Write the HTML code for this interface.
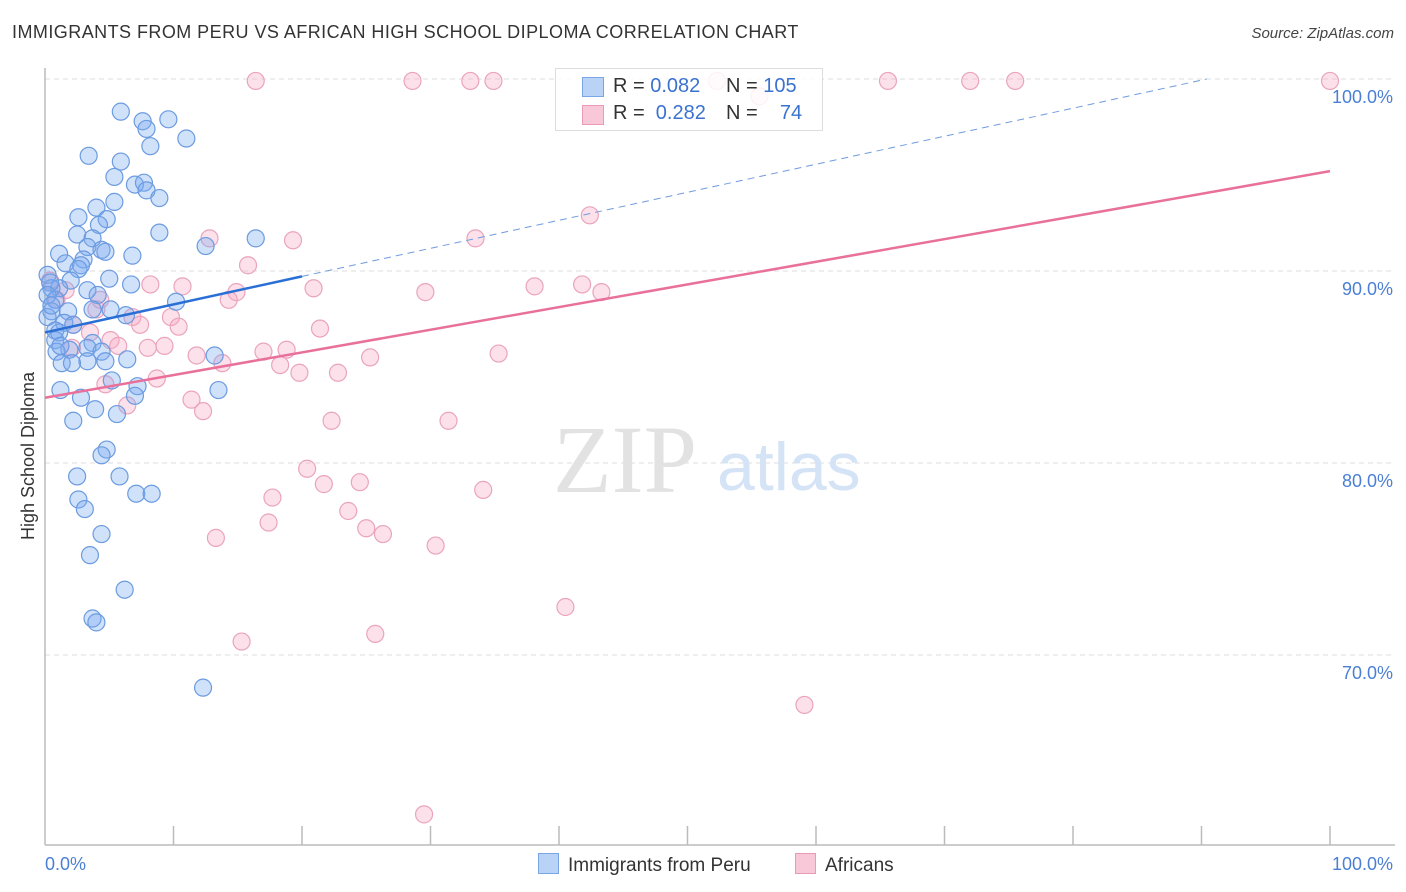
<!DOCTYPE html>
<html><head><meta charset="utf-8"><style>
body{margin:0;background:#fff;font-family:"Liberation Sans",sans-serif;}
#wrap{position:relative;width:1406px;height:892px;overflow:hidden;}
.t{position:absolute;white-space:nowrap;}
</style></head><body>
<div id="wrap">
<div class="t" style="left:12px;top:22px;font-size:18px;letter-spacing:0.45px;color:#333;">IMMIGRANTS FROM PERU VS AFRICAN HIGH SCHOOL DIPLOMA CORRELATION CHART</div>
<div class="t" style="right:12px;top:25px;font-size:15px;color:#444;font-style:italic;">Source: ZipAtlas.com</div>
<svg id="svg" width="1406" height="892" style="position:absolute;left:0;top:0;"></svg>
</div>
<script>
const xTickLabels=["0.0%","100.0%"];
const yTicks=[70,80,90,100];
const blueX=[5.9,7.6,7.9,9.6,8.2,11.0,3.4,5.9,5.4,7.0,7.7,7.9,8.9,5.4,4.0,2.6,4.8,4.2,2.5,8.9,3.7,16.4,12.5,3.3,4.4,4.7,1.1,6.8,3.0,1.6,2.8,2.6,5.0,0.2,2.0,6.7,1.1,0.5,3.3,4.1,0.8,10.2,3.7,5.1,6.3,0.5,1.8,0.2,1.5,2.2,0.8,1.1,0.8,3.7,3.3,1.9,0.9,4.4,13.2,6.4,3.3,1.3,2.1,4.7,5.2,7.2,7.0,1.2,2.8,3.9,5.6,2.2,4.8,4.4,5.8,2.5,2.6,7.1,8.3,3.1,4.4,3.5,6.2,3.7,4.0,12.3,13.5,1.2,0.4,0.2,0.5];
const blueY=[98.3,97.8,97.4,97.9,96.5,96.9,96.0,95.7,94.9,94.5,94.6,94.2,93.8,93.6,93.3,92.8,92.7,92.4,91.9,92.0,91.7,91.7,91.3,91.25,91.1,91.0,90.9,90.8,90.6,90.4,90.3,90.1,89.6,89.8,89.5,89.3,89.1,89.1,89.0,88.75,88.5,88.4,88.0,88.0,87.7,87.9,87.9,87.6,87.3,87.2,86.9,86.8,86.4,86.25,86.0,85.9,85.8,85.8,85.6,85.4,85.3,85.2,85.2,85.3,84.3,84.0,83.5,83.8,83.4,82.8,82.55,82.2,80.7,80.4,79.3,79.3,78.1,78.4,78.4,77.6,76.3,75.2,73.4,71.9,71.7,68.3,83.8,86.1,89.4,88.75,88.2];
const pinkX=[16.4,28.6,33.1,34.9,52.3,65.6,72.0,75.5,100,55.6,42.4,12.8,33.5,19.3,15.8,8.2,10.7,38.1,41.8,43.3,29.6,20.9,14.9,14.3,0.4,0.9,4.0,6.8,7.4,9.8,10.4,21.4,3.5,5.1,5.7,8.0,9.3,11.8,13.8,17.0,18.8,18.3,19.8,22.8,25.3,35.3,8.7,4.7,11.4,6.4,12.3,22.3,31.4,20.4,21.7,24.5,34.1,17.7,23.6,25.0,26.3,17.4,13.3,30.4,40.5,25.7,15.3,59.1,29.5,1.6,2.2,4.3,2.1];
const pinkY=[99.9,99.9,99.9,99.9,99.9,99.9,99.9,99.9,99.9,99.1,92.9,91.7,91.7,91.6,90.3,89.3,89.2,89.2,89.3,88.9,88.9,89.1,88.9,88.5,89.5,88.5,88.0,87.6,87.2,87.6,87.1,87.0,86.8,86.4,86.1,86.0,86.1,85.6,85.2,85.8,85.9,85.1,84.7,84.7,85.5,85.7,84.4,84.1,83.3,83.0,82.7,82.2,82.2,79.7,78.9,79.0,78.6,78.2,77.5,76.6,76.3,76.9,76.1,75.7,72.5,71.1,70.7,67.4,61.7,89.0,87.2,88.5,86.0];
const blueTrend=[86.8,0.146]; // intercept, slope
const pinkTrend=[83.4,0.118];

const X=v=>45+v*12.85;
const Y=v=>79+(100-v)*19.2;
const svg=document.getElementById('svg');
const NS='http://www.w3.org/2000/svg';
function mk(tag,attrs){const e=document.createElementNS(NS,tag);for(const k in attrs)e.setAttribute(k,attrs[k]);svg.appendChild(e);return e;}
yTicks.forEach(t=>{
 const g=mk('line',{x1:45,x2:1395,y1:Y(t),y2:Y(t),stroke:'#ddd','stroke-dasharray':'5,4'});
 
 
 const tx=mk('text',{x:1393,y:Y(t)+24,'text-anchor':'end','font-size':18,fill:'#4a7fd4','font-family':'Liberation Sans,sans-serif'});
 tx.textContent=t.toFixed(1)+'%';
 
 
});
let a=mk('line',{x1:45,x2:45,y1:68,y2:845,stroke:'#bbb','stroke-width':1.5});


a=mk('line',{x1:45,x2:1395,y1:845,y2:845,stroke:'#bbb','stroke-width':1.5});


for(let i=1;i<=10;i++){const l=mk('line',{x1:X(i*10),x2:X(i*10),y1:826,y2:845,stroke:'#bbb','stroke-width':1.5});
 
 }
[[0,'start',45],[1,'end',1393]].forEach(([i,anc,x])=>{const t=mk('text',{x:x,y:870,'text-anchor':anc,'font-size':18,fill:'#4a7fd4','font-family':'Liberation Sans,sans-serif'});t.textContent=xTickLabels[i];
 
 });
let yt=mk('text',{x:34,y:456,transform:'rotate(-90 34 456)','text-anchor':'middle','font-size':18,fill:'#333','font-family':'Liberation Sans,sans-serif'});
yt.textContent='High School Diploma';


let wm=mk('text',{x:553,y:492,'font-size':96,fill:'#e2e2e2','font-family':'Liberation Serif,serif'});wm.textContent='ZIP';


wm=mk('text',{x:717,y:490,'font-size':68,fill:'#d5e3f6','font-family':'Liberation Sans,sans-serif'});wm.textContent='atlas';


function pts(xs,ys,fill,stroke,name){xs.forEach((x,i)=>{const c=mk('circle',{cx:X(x),cy:Y(ys[i]),r:8.5,fill:fill,stroke:stroke,'stroke-width':1.2});
 
 });}
pts(pinkX,pinkY,'rgba(245,165,195,0.35)','#eaa4bd','africans-point');
pts(blueX,blueY,'rgba(120,170,240,0.35)','#6b9be0','peru-point');
const bEnd=(100-blueTrend[0])/blueTrend[1];
let l=mk('line',{x1:X(20),y1:Y(blueTrend[0]+20*blueTrend[1]),x2:X(bEnd),y2:Y(100),stroke:'#6f9be0','stroke-width':1,'stroke-dasharray':'7,5'});


l=mk('line',{x1:X(0),y1:Y(blueTrend[0]),x2:X(20),y2:Y(blueTrend[0]+20*blueTrend[1]),stroke:'#2a6fd6','stroke-width':2.5});


l=mk('line',{x1:X(0),y1:Y(pinkTrend[0]),x2:X(100),y2:Y(pinkTrend[0]+100*pinkTrend[1]),stroke:'#e8709a','stroke-width':2.5});


</script>
<div class="t" style="left:555px;top:68px;width:266px;height:61px;border:1px solid #ddd;background:rgba(255,255,255,0.85);font-size:20px;color:#333;">
 <div style="position:absolute;left:26px;top:8px;width:20px;height:18px;background:#b9d3f6;border:1px solid #7aa6e6;"></div>
 <div style="position:absolute;left:57px;top:6px;">R = <span style="color:#3a72d0">0.082</span></div>
 <div style="position:absolute;left:170px;top:6px;">N = <span style="color:#3a72d0">105</span></div>
 <div style="position:absolute;left:26px;top:36px;width:20px;height:18px;background:#f8c8d8;border:1px solid #eb9ab6;"></div>
 <div style="position:absolute;left:57px;top:33px;">R = &nbsp;<span style="color:#3a72d0">0.282</span></div>
 <div style="position:absolute;left:170px;top:33px;">N = &nbsp;&nbsp;&nbsp;<span style="color:#3a72d0">74</span></div>
</div>
<div class="t" style="left:538px;top:853px;font-size:19px;color:#333;">
 <span style="display:inline-block;width:19px;height:19px;background:#b9d3f6;border:1px solid #7aa6e6;vertical-align:-3px;margin-right:9px;"></span>Immigrants from Peru</div>
<div class="t" style="left:795px;top:853px;font-size:19px;color:#333;">
 <span style="display:inline-block;width:19px;height:19px;background:#f8c8d8;border:1px solid #eb9ab6;vertical-align:-3px;margin-right:9px;"></span>Africans</div>
</body></html>
